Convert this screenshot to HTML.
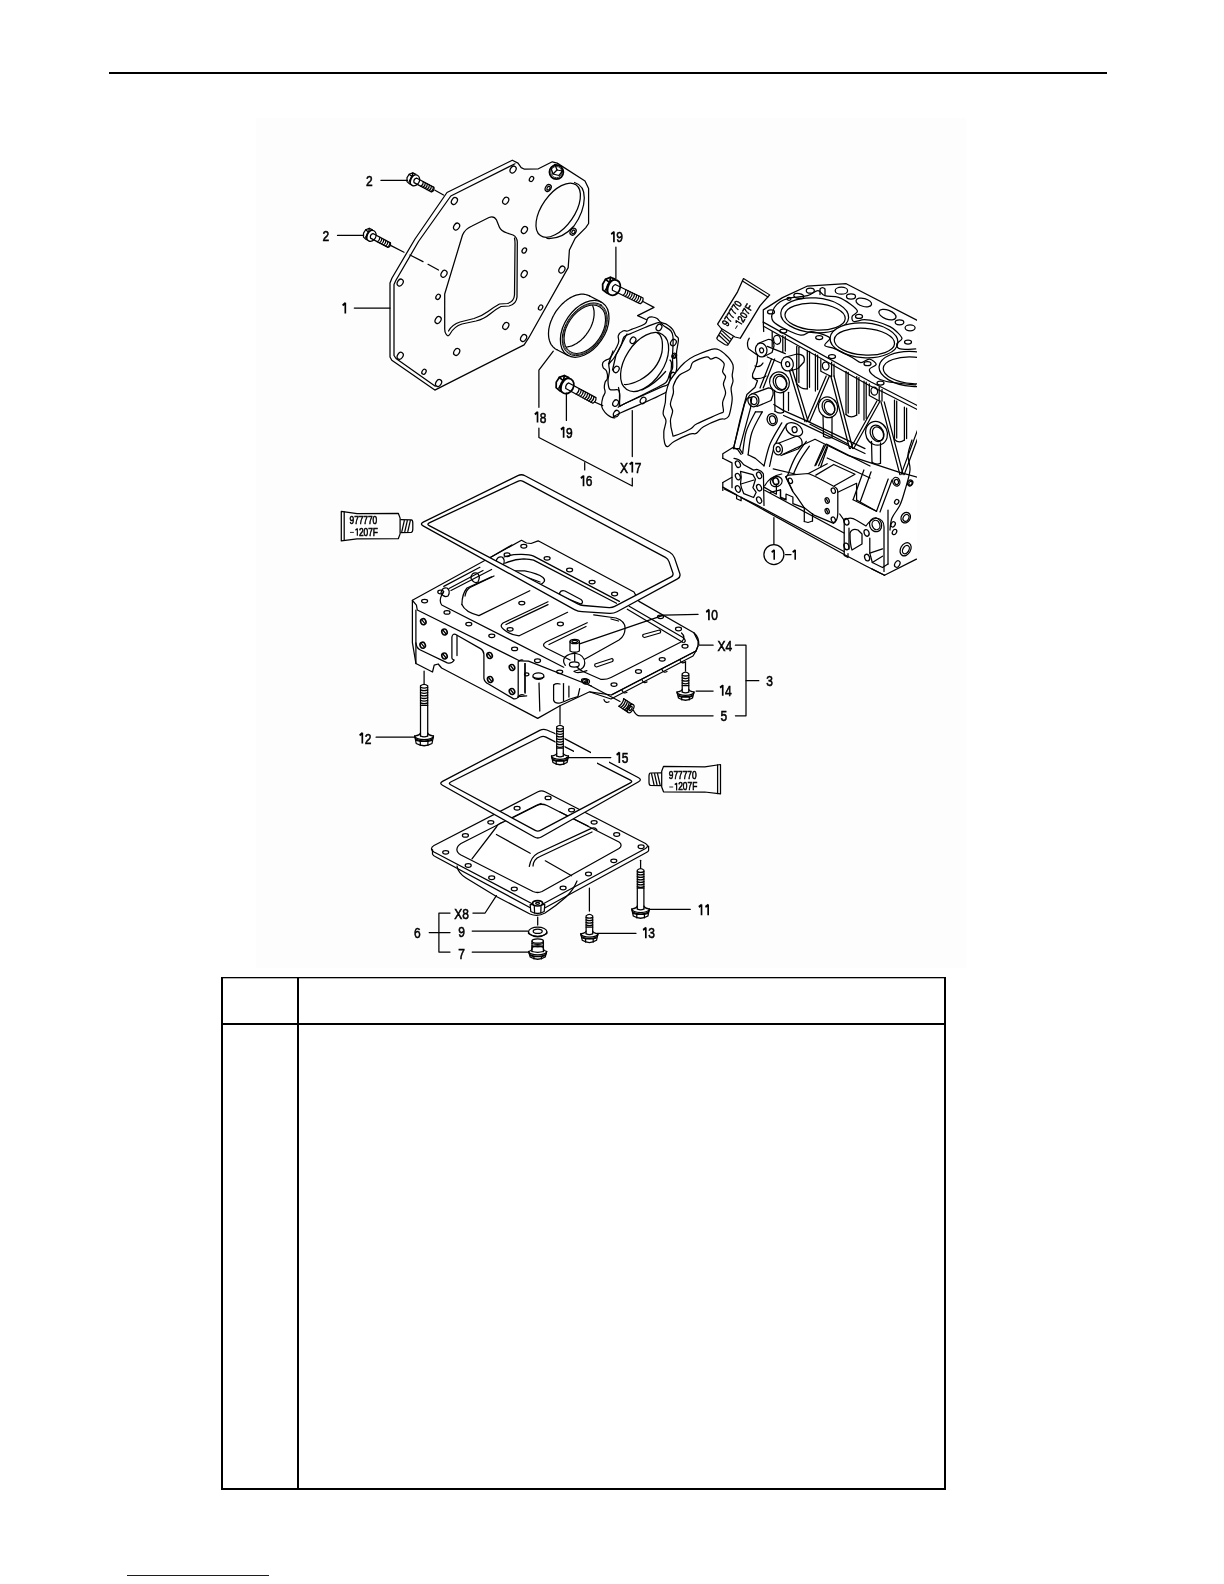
<!DOCTYPE html>
<html><head><meta charset="utf-8">
<style>
html,body{margin:0;padding:0;background:#fff;}
body{width:1224px;height:1584px;position:relative;overflow:hidden;font-family:"Liberation Sans",sans-serif;}
svg{position:absolute;left:0;top:0;will-change:transform;}
.l{fill:none;stroke:#000;stroke-width:1.25;stroke-linejoin:round;stroke-linecap:round;}
.t{font-family:"Liberation Sans",sans-serif;fill:#000;}
</style></head><body>
<svg width="1224" height="1584" viewBox="0 0 1224 1584">
<!-- top rule -->
<rect x="109" y="72" width="998" height="2" fill="#000"/>
<!-- table -->
<rect x="221" y="977" width="725" height="1.3" fill="#000"/>
<rect x="221" y="977" width="2" height="513" fill="#000"/>
<rect x="944" y="977" width="2" height="513" fill="#000"/>
<rect x="297" y="977" width="2" height="513" fill="#000"/>
<rect x="221" y="1023" width="725" height="2" fill="#000"/>
<rect x="221" y="1488" width="725" height="2" fill="#000"/>
<!-- link underline -->
<rect x="127" y="1575" width="142" height="1" fill="#0000ff"/>
<rect x="256" y="118" width="710" height="850" fill="#fdfdfd"/>
<g id="diagram">
<!-- a_plate -->
<path class="l" d="M447,192.5 L512.3,160.2 L518,163.1 L521.2,167.6 L524.5,169.2 L538.4,168.8 L552.3,161.8 L557.2,163.1 L585,181 L588.6,188.4 L588.6,223.5 L585.8,227.6 L575.2,238.2 L569.4,250 L568.2,267.6 L528.5,338.2 L524.1,344.9 L434.8,390.1 L391.8,360.3 L390,357 L390,283 L392,278 L415,239 L447,192.5Z" /><path class="l" d="M515,163.8 L450.8,196 L418.5,241.5 L395.8,280.5 L394,284.5 L394,355.5 L396,358.5 L435.3,386.2" /><path class="l" d="M444.7,294 L462.5,235 Q465,229 472,226 L489,217.5 Q494,215.6 496.5,220 L499.3,227 Q501,231 507,233 L513,235 Q517,237 517.3,242 L517,297 Q516.5,304 509,306 L501,306.5 Q496,309 490,314 Q484,319 476,321 L462,324 Q454,326.5 450,334 Q448,337.5 446,334 Q444.7,332 444.7,329 Z" /><path class="l" d="M514.5,238 Q515.2,241 515,246 L514.5,295 Q514,301.5 507.5,303.5 L499.5,304 Q494,307 488,311.5 Q482,316 474,318.5 L460,322 Q452,324.5 448.5,331" /><ellipse class="l" cx="558.2" cy="210.2" rx="31" ry="16.3" transform="rotate(-55 558.2 210.2)" /><path class="l" d="M574.5,182.5 Q584.5,185.5 584.3,198 Q584,212 574,226 Q562,239.5 547,238.5" /><circle class="l" cx="556.4" cy="172.1" r="7" style="stroke-width:1.7;fill:#fff"/><path class="l" d="M551,168 L555,164.5 L561,166 L562.5,171 L559,175.5 L553,174 Z" /><line class="l" x1="555" y1="164.5" x2="557" y2="170" /><line class="l" x1="557" y1="170" x2="562.5" y2="171" /><line class="l" x1="557" y1="170" x2="553" y2="174" /><circle class="l" cx="556.4" cy="172.1" r="5.6" style="stroke-width:0.8"/><ellipse class="l" cx="513.1" cy="169.6" rx="2.7" ry="3.7" transform="rotate(32 513.1 169.6)" /><ellipse class="l" cx="531.5" cy="179" rx="1.9" ry="2.7" transform="rotate(32 531.5 179)" /><ellipse class="l" cx="548.2" cy="188" rx="2.7" ry="3.7" transform="rotate(32 548.2 188)" /><ellipse class="l" cx="548.5" cy="188.2" rx="1.4" ry="2" transform="rotate(32 548.5 188.2)" /><ellipse class="l" cx="454.4" cy="201" rx="2.7" ry="3.7" transform="rotate(32 454.4 201)" /><ellipse class="l" cx="505.7" cy="200.7" rx="2.7" ry="3.7" transform="rotate(32 505.7 200.7)" /><ellipse class="l" cx="456.6" cy="226.6" rx="2.7" ry="3.7" transform="rotate(32 456.6 226.6)" /><ellipse class="l" cx="524.4" cy="230" rx="2.7" ry="3.7" transform="rotate(32 524.4 230)" /><ellipse class="l" cx="524.3" cy="250.5" rx="2" ry="2.8" transform="rotate(32 524.3 250.5)" /><ellipse class="l" cx="573.1" cy="231.7" rx="2.7" ry="3.7" transform="rotate(32 573.1 231.7)" /><ellipse class="l" cx="573.4" cy="231.9" rx="1.4" ry="2" transform="rotate(32 573.4 231.9)" /><ellipse class="l" cx="400.2" cy="282.6" rx="2.7" ry="3.7" transform="rotate(32 400.2 282.6)" /><ellipse class="l" cx="444" cy="273.8" rx="2.7" ry="3.7" transform="rotate(32 444 273.8)" /><ellipse class="l" cx="438.1" cy="296.8" rx="2" ry="2.8" transform="rotate(32 438.1 296.8)" /><ellipse class="l" cx="438.1" cy="320" rx="2.7" ry="3.7" transform="rotate(32 438.1 320)" /><ellipse class="l" cx="400.2" cy="355.8" rx="2.7" ry="3.7" transform="rotate(32 400.2 355.8)" /><ellipse class="l" cx="424" cy="371.8" rx="1.9" ry="2.7" transform="rotate(32 424 371.8)" /><ellipse class="l" cx="438.6" cy="383" rx="2.7" ry="3.7" transform="rotate(32 438.6 383)" /><ellipse class="l" cx="456.7" cy="351.9" rx="2.7" ry="3.7" transform="rotate(32 456.7 351.9)" /><ellipse class="l" cx="505.8" cy="325.9" rx="2.7" ry="3.7" transform="rotate(32 505.8 325.9)" /><ellipse class="l" cx="523.6" cy="338" rx="2.7" ry="3.7" transform="rotate(32 523.6 338)" /><ellipse class="l" cx="540.6" cy="307.5" rx="1.9" ry="2.7" transform="rotate(32 540.6 307.5)" /><ellipse class="l" cx="561.9" cy="269.6" rx="2.7" ry="3.7" transform="rotate(32 561.9 269.6)" /><ellipse class="l" cx="524.2" cy="274" rx="2.7" ry="3.7" transform="rotate(32 524.2 274)" /><line class="l" x1="354.3" y1="308" x2="390" y2="308" /><g transform="translate(341,313.5) scale(0.800,1)"><path d="M5.4,0 L5.4,-10.7 M5.6,-10.5 L2,-8.2" style="fill:none;stroke:#000;stroke-width:2.10;stroke-linecap:butt"/></g><g transform="translate(413.3,179.3) rotate(28)"><g transform="scale(1)"><path class="l" d="M0,-5.6 L-3.5,-5.4 L-6,-2.5 L-6.3,1.5 L-4.5,5 L-1,5.8 L1,5.6" /><path class="l" d="M-3.5,-5.4 L-2.2,-1.8 L-2.6,4.2 M-6,-2.5 L-2.2,-1.8" /><ellipse class="l" cx="1.8" cy="0.2" rx="4.6" ry="5.7" style="fill:#fff"/><path class="l" d="M-1.2,-4.2 Q-3.2,0 -1,4.6" /></g><path class="l" d="M22,-2.6 L2.2,-2.6 Q-0.2,0 2.2,2.6 L22,2.6 Q24.2,0 22,-2.6" /><path class="l" d="M10,-2.6 Q11.4,0 10,2.6" /><path class="l" d="M12.3,-2.6 Q13.7,0 12.3,2.6" /><path class="l" d="M14.6,-2.6 Q16,0 14.6,2.6" /><path class="l" d="M16.9,-2.6 Q18.3,0 16.9,2.6" /><path class="l" d="M19.2,-2.6 Q20.6,0 19.2,2.6" /><path class="l" d="M21.5,-2.6 Q22.9,0 21.5,2.6" /></g><line class="l" x1="380.9" y1="180.3" x2="407.5" y2="180.3" /><g transform="translate(366,185.8) scale(0.800,1)"><text x="0" y="0" class="t" font-size="15" font-weight="normal" style="stroke:#000;stroke-width:0.6">2</text></g><path class="l" d="M435,190.2 L443.5,195" style="stroke-dasharray:none"/><g transform="translate(369.8,234.8) rotate(28)"><g transform="scale(1)"><path class="l" d="M0,-5.6 L-3.5,-5.4 L-6,-2.5 L-6.3,1.5 L-4.5,5 L-1,5.8 L1,5.6" /><path class="l" d="M-3.5,-5.4 L-2.2,-1.8 L-2.6,4.2 M-6,-2.5 L-2.2,-1.8" /><ellipse class="l" cx="1.8" cy="0.2" rx="4.6" ry="5.7" style="fill:#fff"/><path class="l" d="M-1.2,-4.2 Q-3.2,0 -1,4.6" /></g><path class="l" d="M22,-2.6 L2.2,-2.6 Q-0.2,0 2.2,2.6 L22,2.6 Q24.2,0 22,-2.6" /><path class="l" d="M10,-2.6 Q11.4,0 10,2.6" /><path class="l" d="M12.3,-2.6 Q13.7,0 12.3,2.6" /><path class="l" d="M14.6,-2.6 Q16,0 14.6,2.6" /><path class="l" d="M16.9,-2.6 Q18.3,0 16.9,2.6" /><path class="l" d="M19.2,-2.6 Q20.6,0 19.2,2.6" /><path class="l" d="M21.5,-2.6 Q22.9,0 21.5,2.6" /></g><line class="l" x1="337.5" y1="235.4" x2="363.5" y2="235.4" /><g transform="translate(322.5,241) scale(0.800,1)"><text x="0" y="0" class="t" font-size="15" font-weight="normal" style="stroke:#000;stroke-width:0.6">2</text></g><path class="l" d="M391,245.6 L404,252.2 M410,255 L423,261.6 M428,264.3 L438.5,270" />
<!-- b_seal -->
<path class="l" d="M557,349.7 L556,349.2 L555.1,348.7 L554.3,348 L553.5,347.3 L552.7,346.6 L552.1,345.7 L551.4,344.8 L550.8,343.9 L550.3,342.9 L549.9,341.8 L549.5,340.7 L549.2,339.5 L548.9,338.3 L548.7,337 L548.6,335.7 L548.5,334.4 L548.5,333 L548.6,331.6 L548.7,330.2 L548.9,328.7 L549.2,327.3 L549.5,325.8 L549.9,324.3 L550.4,322.8 L550.9,321.3 L551.5,319.9 L552.1,318.4 L552.8,316.9 L553.6,315.5 L554.4,314 L555.2,312.6 L556.1,311.2 L557.1,309.9 L558.1,308.6 L559.1,307.3 L560.2,306.1 L561.3,304.9 L562.4,303.8 L563.6,302.7 L564.8,301.6 L566,300.7 L567.2,299.7 L568.5,298.9 L569.7,298.1 L571,297.4 L572.3,296.7 L573.6,296.1 L574.8,295.6 L576.1,295.2 L577.4,294.8 L578.6,294.6 L579.8,294.4 L581,294.2 L582.2,294.2 L583.4,294.2 L584.5,294.3 L585.6,294.5 L586.7,294.8 L587.7,295.1 L588.7,295.5 L589.7,296" /><line class="l" x1="568.4" y1="355.7" x2="556.5" y2="349.5" /><line class="l" x1="601" y1="301.9" x2="589.2" y2="295.7" /><ellipse class="l" cx="584.7" cy="328.8" rx="31.5" ry="20.2" transform="rotate(-55.8 584.7 328.8)" /><ellipse class="l" cx="584.8" cy="329.2" rx="29.3" ry="18.8" transform="rotate(-55.8 584.8 329.2)" style="stroke-width:0.9"/><ellipse class="l" cx="584.8" cy="329.2" rx="28.2" ry="18.1" transform="rotate(-55.8 584.8 329.2)" style="stroke-width:0.7"/><ellipse class="l" cx="584.8" cy="329.2" rx="26.8" ry="17.2" transform="rotate(-55.8 584.8 329.2)" style="stroke-width:1.1"/><path class="l" d="M592.6,305.7 L593,306.6 L593.3,307.6 L593.6,308.6 L593.8,309.6 L594,310.7 L594.1,311.8 L594.1,312.9 L594.1,314.1 L594.1,315.3 L593.9,316.5 L593.8,317.7 L593.5,318.9 L593.3,320.2 L592.9,321.5 L592.5,322.7 L592.1,324 L591.6,325.2 L591.1,326.5 L590.5,327.7 L589.8,329 L589.1,330.2 L588.4,331.4 L587.6,332.6 L586.8,333.7 L586,334.8 L585.1,335.9 L584.2,337 L583.3,338 L582.3,338.9 L581.3,339.9 L580.3,340.7 L579.3,341.6 L578.2,342.3 L577.2,343.1 L576.1,343.7 L575,344.3 L573.9,344.9 L572.8,345.4 L571.8,345.8 L570.7,346.2 L569.6,346.5 L568.6,346.7 L567.5,346.9 L566.5,347" /><path class="l" d="M553.3,351.2 L538.9,370.1 L538.9,407.3" /><g transform="translate(533.2,422.5) scale(0.800,1)"><path d="M5.4,0 L5.4,-10.7 M5.6,-10.5 L2,-8.2" style="fill:none;stroke:#000;stroke-width:2.10;stroke-linecap:butt"/><text x="8.3" y="0" class="t" font-size="15" font-weight="normal" style="stroke:#000;stroke-width:0.6">8</text></g><path class="l" d="M538.9,428.2 L538.9,437.5 L632.3,486 L632.3,478.2" /><line class="l" x1="584.7" y1="462.7" x2="584.7" y2="469.9" /><g transform="translate(579.2,486.3) scale(0.800,1)"><path d="M5.4,0 L5.4,-10.7 M5.6,-10.5 L2,-8.2" style="fill:none;stroke:#000;stroke-width:2.10;stroke-linecap:butt"/><text x="8.3" y="0" class="t" font-size="15" font-weight="normal" style="stroke:#000;stroke-width:0.6">6</text></g><line class="l" x1="632.3" y1="410.5" x2="632.3" y2="456.6" /><g transform="translate(620,472.6) scale(0.800,1)"><text x="0" y="0" class="t" font-size="15" font-weight="normal" style="stroke:#000;stroke-width:0.6">X</text><path d="M15.4,0 L15.4,-10.7 M15.6,-10.5 L12,-8.2" style="fill:none;stroke:#000;stroke-width:2.10;stroke-linecap:butt"/><text x="18.3" y="0" class="t" font-size="15" font-weight="normal" style="stroke:#000;stroke-width:0.6">7</text></g><g transform="translate(611.5,286.2) rotate(26)"><g transform="scale(1.4)"><path class="l" d="M0,-5.6 L-3.5,-5.4 L-6,-2.5 L-6.3,1.5 L-4.5,5 L-1,5.8 L1,5.6" /><path class="l" d="M-3.5,-5.4 L-2.2,-1.8 L-2.6,4.2 M-6,-2.5 L-2.2,-1.8" /><ellipse class="l" cx="1.8" cy="0.2" rx="4.6" ry="5.7" style="fill:#fff"/><path class="l" d="M-1.2,-4.2 Q-3.2,0 -1,4.6" /></g><path class="l" d="M33.5,-3.2 L2.6,-3.2 Q0.2,0 2.6,3.2 L33.5,3.2 Q35.7,0 33.5,-3.2" /><path class="l" d="M14.5,-3.2 Q15.9,0 14.5,3.2" /><path class="l" d="M16.9,-3.2 Q18.3,0 16.9,3.2" /><path class="l" d="M19.3,-3.2 Q20.7,0 19.3,3.2" /><path class="l" d="M21.7,-3.2 Q23.1,0 21.7,3.2" /><path class="l" d="M24.1,-3.2 Q25.5,0 24.1,3.2" /><path class="l" d="M26.5,-3.2 Q27.9,0 26.5,3.2" /><path class="l" d="M28.9,-3.2 Q30.3,0 28.9,3.2" /><path class="l" d="M31.3,-3.2 Q32.7,0 31.3,3.2" /></g><line class="l" x1="615.9" y1="247" x2="615.9" y2="278.5" /><g transform="translate(609.6,242.3) scale(0.800,1)"><path d="M5.4,0 L5.4,-10.7 M5.6,-10.5 L2,-8.2" style="fill:none;stroke:#000;stroke-width:2.10;stroke-linecap:butt"/><text x="8.3" y="0" class="t" font-size="15" font-weight="normal" style="stroke:#000;stroke-width:0.6">9</text></g><path class="l" d="M642.5,301.2 L654,307.4 L637.6,315.6 L646.6,319.7" /><g transform="translate(565,384.5) rotate(28.5)"><g transform="scale(1.4)"><path class="l" d="M0,-5.6 L-3.5,-5.4 L-6,-2.5 L-6.3,1.5 L-4.5,5 L-1,5.8 L1,5.6" /><path class="l" d="M-3.5,-5.4 L-2.2,-1.8 L-2.6,4.2 M-6,-2.5 L-2.2,-1.8" /><ellipse class="l" cx="1.8" cy="0.2" rx="4.6" ry="5.7" style="fill:#fff"/><path class="l" d="M-1.2,-4.2 Q-3.2,0 -1,4.6" /></g><path class="l" d="M33.5,-3.2 L2.6,-3.2 Q0.2,0 2.6,3.2 L33.5,3.2 Q35.7,0 33.5,-3.2" /><path class="l" d="M14.5,-3.2 Q15.9,0 14.5,3.2" /><path class="l" d="M16.9,-3.2 Q18.3,0 16.9,3.2" /><path class="l" d="M19.3,-3.2 Q20.7,0 19.3,3.2" /><path class="l" d="M21.7,-3.2 Q23.1,0 21.7,3.2" /><path class="l" d="M24.1,-3.2 Q25.5,0 24.1,3.2" /><path class="l" d="M26.5,-3.2 Q27.9,0 26.5,3.2" /><path class="l" d="M28.9,-3.2 Q30.3,0 28.9,3.2" /><path class="l" d="M31.3,-3.2 Q32.7,0 31.3,3.2" /></g><line class="l" x1="594.6" y1="402" x2="602.7" y2="405.6" /><line class="l" x1="566.4" y1="393" x2="566.4" y2="420.4" /><g transform="translate(559.3,437.7) scale(0.800,1)"><path d="M5.4,0 L5.4,-10.7 M5.6,-10.5 L2,-8.2" style="fill:none;stroke:#000;stroke-width:2.10;stroke-linecap:butt"/><text x="8.3" y="0" class="t" font-size="15" font-weight="normal" style="stroke:#000;stroke-width:0.6">9</text></g><path class="l" d="M644.7,324 C648,321.8 646.3,319.6 647.8,318.2 C649.3,316.8 650.5,316.9 652.4,317 C654.3,317.1 655.4,317.4 657.1,318.5 C658.8,319.6 659,321.2 661,322.4 C663,323.6 664.9,323.3 667.2,324.7 C669.5,326.1 670.9,327.2 672.6,329.4 C674.3,331.6 674.5,333.7 675.7,335.6 C676.9,337.5 678.1,336.4 678.4,338.7 C678.7,341 677.7,344.3 677.3,347.3 C676.9,350.3 676.7,349 676.5,353.5 C676.3,358 677.4,364.5 676.5,369.8 C675.6,375.1 673.9,375.7 672,380 C670.1,384.3 677.9,384.7 667.2,391.5 C656.5,398.3 628.9,408.7 618.3,414 C607.7,419.3 616.6,417.7 614.4,417.9 C612.2,418.1 609.7,416.5 607.4,414.8 C605.1,413.1 604,411.3 602.8,409.3 C601.6,407.3 601.6,407 601.6,404.7 C601.6,402.4 602.1,400.2 602.8,397.7 C603.5,395.2 604.8,394.3 605.1,392.3 C605.4,390.3 604.3,389.6 604.3,387.6 C604.3,385.6 604.5,384.1 605.1,382.2 C605.7,380.3 607.1,380.5 607.4,378.3 C607.7,376.1 607.5,373.5 606.6,371.3 C605.7,369.1 603.9,369.1 603.1,367.4 C602.3,365.7 602.1,364.3 602.8,362.8 C603.5,361.3 605.1,360.8 606.6,359.7 C608.1,358.6 608.2,360.6 610.5,357.3 C612.8,354 616.7,347.7 618.3,343.4 C619.9,339.1 617.4,338.1 618.3,335.6 C619.2,333.1 621,331.9 622.9,331 C624.8,330.1 625.9,331.3 627.6,331 C629.3,330.7 628.1,330.8 631.5,329.4 C634.9,328 641.4,326.2 644.7,324Z" /><path class="l" d="M630.7,333.6 C633.1,332.6 640.4,329.3 645,327.5 C649.6,325.7 655.4,322.9 658.6,322.6 C661.8,322.4 661.9,324.6 664,326 C666.1,327.4 669.5,329.2 671,331 C672.5,332.8 672.7,334.5 673,337 C673.3,339.5 673.1,342.8 673,346 C672.9,349.2 672.6,352.3 672.5,356 C672.4,359.7 673,365.2 672.6,368 C672.2,370.8 670.9,370.3 670,372.5 C669.1,374.7 668.7,378.8 667,381 C665.3,383.2 667.5,382 660,386 C652.5,390 628.8,401.7 622,405 C615.2,408.3 619.6,407.2 619.2,406 C618.8,404.8 619.6,400.7 619.5,398 C619.4,395.3 620.1,391.4 618.5,390 C616.9,388.6 611.8,391 610,389.5 C608.2,388 608.1,384.1 608,381 C607.9,377.9 609.3,373.8 609.5,371 C609.7,368.2 608.2,366.2 609,364 C609.8,361.8 612,361.1 614,358 C616,354.9 619.3,349 621,345.5 C622.7,342 622.4,339 624,337 C625.6,335 629.6,334.2 630.7,333.6" /><path class="l" d="M618.5,387.5 C618.7,388.8 619.5,392 619.8,395 C620,398 619,404.2 620,405.5 C621,406.8 619.3,406 626,403 C632.7,400 652.8,390.9 660,387.6 C667.2,384.3 667.1,386.9 669,383 C670.9,379.1 671.3,368.3 671.5,364.5 C671.7,360.7 670.2,360.8 670,360" /><ellipse class="l" cx="644.6" cy="362" rx="32.8" ry="19.2" transform="rotate(-57 644.6 362)" /><path class="l" d="M657.1,332.6 Q664,336 662,352 Q658,370 640,380 Q630,385 624.5,384.5" /><path class="l" d="M665.6,371.5 Q655,384 642,390" /><ellipse class="l" cx="659" cy="327.5" rx="2.6" ry="3.4" transform="rotate(32 659 327.5)" /><ellipse class="l" cx="673.4" cy="342.6" rx="2.6" ry="3.4" transform="rotate(32 673.4 342.6)" /><ellipse class="l" cx="674.2" cy="355.8" rx="2.1" ry="2.7" transform="rotate(32 674.2 355.8)" /><ellipse class="l" cx="674.5" cy="356" rx="1" ry="1.5" transform="rotate(32 674.5 356)" /><ellipse class="l" cx="672.6" cy="375.6" rx="2.6" ry="3.4" transform="rotate(32 672.6 375.6)" /><ellipse class="l" cx="633" cy="340.3" rx="2.6" ry="3.4" transform="rotate(32 633 340.3)" /><ellipse class="l" cx="616.3" cy="369.4" rx="2.6" ry="3.4" transform="rotate(32 616.3 369.4)" /><ellipse class="l" cx="643.1" cy="400.4" rx="2.6" ry="3.4" transform="rotate(32 643.1 400.4)" /><ellipse class="l" cx="615.6" cy="403.1" rx="2.6" ry="3.4" transform="rotate(32 615.6 403.1)" /><ellipse class="l" cx="616.3" cy="413.6" rx="2.6" ry="3.4" transform="rotate(32 616.3 413.6)" /><path class="l" d="M612.5,370 L616,355 L627,334" /><path class="l" d="M608.5,364 L613,351" /><path class="l" d="M714.6,348.8 C719.9,348.6 722.5,352 725.6,354.7 C728.7,357.4 731.9,361.6 733,365 C734.1,368.4 732.2,372.6 732.2,375.3 C732.2,378 733.2,379 733,381.2 C732.8,383.4 731.2,385.6 731.1,388.5 C731,391.4 732.3,395.4 732.2,398.8 C732.1,402.2 731.3,406.2 730.7,409.1 C730.1,412.1 729.5,414.9 728.5,416.5 C727.5,418.1 726.4,418.5 724.9,419 C723.4,419.5 723.3,418.1 719.7,419.4 C716.1,420.7 707.4,424.5 703.5,426.8 C699.6,429.1 698.5,432.2 696.2,433.4 C693.9,434.6 693.3,432.8 689.6,434.1 C685.9,435.5 677.8,439.4 674.1,441.5 C670.4,443.6 669.1,446.4 667.5,446.6 C665.9,446.8 665.2,445.3 664.6,442.9 C664,440.4 663.6,435.6 663.8,431.9 C664,428.2 666.1,424 666,420.9 C665.9,417.8 663.2,416.6 663.1,413.5 C663,410.4 664.8,405.9 665.3,402.5 C665.8,399.1 665.3,396.4 666,392.9 C666.7,389.3 667.9,384.9 669.7,381.2 C671.6,377.5 674.7,374 677.1,370.9 C679.5,367.8 681.6,365.2 684.4,362.8 C687.2,360.4 689,358.5 694,356.2 C699,353.9 709.3,349.1 714.6,348.8Z" style="fill:#fff"/><path class="l" d="M716.8,357.6 C719,358.3 723.1,361.2 724.1,363.5 C725.1,365.8 722.4,369.4 722.6,371.6 C722.9,373.8 725.5,374.7 725.6,376.8 C725.7,378.9 723.4,381.4 723.4,384.1 C723.4,386.8 725.7,389.8 725.6,392.9 C725.5,396 723,399.4 722.6,402.5 C722.2,405.6 723.9,409.5 723.4,411.3 C722.9,413.1 724.1,411.4 719.7,413.5 C715.3,415.6 701.8,421.2 696.9,423.8 C692,426.4 694,427 690.3,429 C686.6,431 677.8,434.8 674.9,435.6 C672,436.5 673.4,436.6 672.6,434.1 C671.9,431.7 670.4,424.7 670.4,420.9 C670.4,417.1 672.6,414.1 672.6,411.3 C672.6,408.5 670.3,407.1 670.4,404 C670.5,400.9 672.9,396 673.4,392.9 C673.9,389.8 672.4,388.5 673.4,385.6 C674.4,382.7 676.6,378 679.3,375.3 C682,372.6 687.3,371.6 689.6,369.4 C691.9,367.2 690.4,364.2 693.2,362.1 C696,360 703.5,357.4 706.5,356.9 C709.5,356.4 709.2,359 710.9,359.1 C712.6,359.2 714.6,356.9 716.8,357.6Z" />
<!-- c_tubes -->
<g transform="translate(341.3,526.1)"><path class="l" d="M0,-14.7 L15.7,-12.4 L57,-12.8 L58.8,-8 L58.8,7.8 L57,12.6 L15.7,12.8 L0,14.7Z" /><line class="l" x1="2.9" y1="-14.3" x2="2.9" y2="14.3" /><path class="l" d="M59.5,-6.4 L70,-6.2 Q71.5,-6 71.5,-3 L71.5,3 Q71.5,6 70,6.2 L59.5,6.5" /><line class="l" x1="63" y1="-5.5" x2="60.5" y2="5.5" /><line class="l" x1="66" y1="-5.5" x2="63.5" y2="5.5" /><line class="l" x1="69" y1="-5.5" x2="66.5" y2="5.5" /></g><g transform="translate(349.5,524) scale(0.800,1)"><text x="0" y="0" class="t" font-size="10.4" font-weight="normal" style="stroke:#000;stroke-width:0.6">9</text><text x="5.8" y="0" class="t" font-size="10.4" font-weight="normal" style="stroke:#000;stroke-width:0.6">7</text><text x="11.6" y="0" class="t" font-size="10.4" font-weight="normal" style="stroke:#000;stroke-width:0.6">7</text><text x="17.3" y="0" class="t" font-size="10.4" font-weight="normal" style="stroke:#000;stroke-width:0.6">7</text><text x="23.1" y="0" class="t" font-size="10.4" font-weight="normal" style="stroke:#000;stroke-width:0.6">7</text><text x="28.9" y="0" class="t" font-size="10.4" font-weight="normal" style="stroke:#000;stroke-width:0.6">0</text></g><g transform="translate(349.5,535.8) scale(0.800,1)"><path d="M0.6,-3.4 L5.5,-3.4" style="fill:none;stroke:#000;stroke-width:0.94"/><path d="M9.8,0 L9.8,-7.4 M10,-7.3 L7.4,-5.7" style="fill:none;stroke:#000;stroke-width:1.46;stroke-linecap:butt"/><text x="11.9" y="0" class="t" font-size="10.4" font-weight="normal" style="stroke:#000;stroke-width:0.6">2</text><text x="17.6" y="0" class="t" font-size="10.4" font-weight="normal" style="stroke:#000;stroke-width:0.6">0</text><text x="23.4" y="0" class="t" font-size="10.4" font-weight="normal" style="stroke:#000;stroke-width:0.6">7</text><text x="29.2" y="0" class="t" font-size="10.4" font-weight="normal" style="stroke:#000;stroke-width:0.6">F</text></g><g transform="translate(720.5,779.2) scale(-1,1)"><path class="l" d="M0,-14.7 L15.7,-12.4 L57,-12.8 L58.8,-8 L58.8,7.8 L57,12.6 L15.7,12.8 L0,14.7Z" /><line class="l" x1="2.9" y1="-14.3" x2="2.9" y2="14.3" /><path class="l" d="M59.5,-6.4 L70,-6.2 Q71.5,-6 71.5,-3 L71.5,3 Q71.5,6 70,6.2 L59.5,6.5" /><line class="l" x1="63" y1="-5.5" x2="60.5" y2="5.5" /><line class="l" x1="66" y1="-5.5" x2="63.5" y2="5.5" /><line class="l" x1="69" y1="-5.5" x2="66.5" y2="5.5" /></g><g transform="translate(668.8,778.6) scale(0.800,1)"><text x="0" y="0" class="t" font-size="10.4" font-weight="normal" style="stroke:#000;stroke-width:0.6">9</text><text x="5.8" y="0" class="t" font-size="10.4" font-weight="normal" style="stroke:#000;stroke-width:0.6">7</text><text x="11.6" y="0" class="t" font-size="10.4" font-weight="normal" style="stroke:#000;stroke-width:0.6">7</text><text x="17.3" y="0" class="t" font-size="10.4" font-weight="normal" style="stroke:#000;stroke-width:0.6">7</text><text x="23.1" y="0" class="t" font-size="10.4" font-weight="normal" style="stroke:#000;stroke-width:0.6">7</text><text x="28.9" y="0" class="t" font-size="10.4" font-weight="normal" style="stroke:#000;stroke-width:0.6">0</text></g><g transform="translate(668.8,790.4) scale(0.800,1)"><path d="M0.6,-3.4 L5.5,-3.4" style="fill:none;stroke:#000;stroke-width:0.94"/><path d="M9.8,0 L9.8,-7.4 M10,-7.3 L7.4,-5.7" style="fill:none;stroke:#000;stroke-width:1.46;stroke-linecap:butt"/><text x="11.9" y="0" class="t" font-size="10.4" font-weight="normal" style="stroke:#000;stroke-width:0.6">2</text><text x="17.6" y="0" class="t" font-size="10.4" font-weight="normal" style="stroke:#000;stroke-width:0.6">0</text><text x="23.4" y="0" class="t" font-size="10.4" font-weight="normal" style="stroke:#000;stroke-width:0.6">7</text><text x="29.2" y="0" class="t" font-size="10.4" font-weight="normal" style="stroke:#000;stroke-width:0.6">F</text></g><g transform="translate(756.6,286.7) rotate(122) scale(0.92,1.05)"><path class="l" d="M0,-14.7 L15.7,-12.4 L57,-12.8 L58.8,-8 L58.8,7.8 L57,12.6 L15.7,12.8 L0,14.7Z" /><line class="l" x1="2.9" y1="-14.3" x2="2.9" y2="14.3" /><path class="l" d="M59.5,-6.4 L70,-6.2 Q71.5,-6 71.5,-3 L71.5,3 Q71.5,6 70,6.2 L59.5,6.5" /><line class="l" x1="63" y1="-5.5" x2="60.5" y2="5.5" /><line class="l" x1="66" y1="-5.5" x2="63.5" y2="5.5" /><line class="l" x1="69" y1="-5.5" x2="66.5" y2="5.5" /></g><g transform="translate(727.5,327) rotate(-58) scale(0.800,1)"><text x="0" y="0" class="t" font-size="10.4" font-weight="normal" style="stroke:#000;stroke-width:0.6">9</text><text x="5.8" y="0" class="t" font-size="10.4" font-weight="normal" style="stroke:#000;stroke-width:0.6">7</text><text x="11.6" y="0" class="t" font-size="10.4" font-weight="normal" style="stroke:#000;stroke-width:0.6">7</text><text x="17.3" y="0" class="t" font-size="10.4" font-weight="normal" style="stroke:#000;stroke-width:0.6">7</text><text x="23.1" y="0" class="t" font-size="10.4" font-weight="normal" style="stroke:#000;stroke-width:0.6">7</text><text x="28.9" y="0" class="t" font-size="10.4" font-weight="normal" style="stroke:#000;stroke-width:0.6">0</text></g><g transform="translate(738,331) rotate(-58) scale(0.800,1)"><path d="M0.6,-3.4 L5.5,-3.4" style="fill:none;stroke:#000;stroke-width:0.94"/><path d="M9.8,0 L9.8,-7.4 M10,-7.3 L7.4,-5.7" style="fill:none;stroke:#000;stroke-width:1.46;stroke-linecap:butt"/><text x="11.9" y="0" class="t" font-size="10.4" font-weight="normal" style="stroke:#000;stroke-width:0.6">2</text><text x="17.6" y="0" class="t" font-size="10.4" font-weight="normal" style="stroke:#000;stroke-width:0.6">0</text><text x="23.4" y="0" class="t" font-size="10.4" font-weight="normal" style="stroke:#000;stroke-width:0.6">7</text><text x="29.2" y="0" class="t" font-size="10.4" font-weight="normal" style="stroke:#000;stroke-width:0.6">F</text></g>
<!-- d_block -->
<defs><clipPath id="blk"><rect x="700" y="270" width="217" height="320"/></clipPath></defs><g clip-path="url(#blk)"><path class="l" d="M763.3,309.9 L782.5,297.6 L807,286.2 L846.2,283.7 L930,327 L930,560 L884.3,576 L722.5,490.4 L722.5,453.9 L744,403.5 L746.9,394.5 L748.5,348.8 L749.3,338.2 L763.3,322.1Z" style="fill:#fff;stroke:none"/><path class="l" d="M763.3,322.1 L763.3,309.9 L782.5,297.6 L807,286.2 L846.2,283.7 L930,327" /><line class="l" x1="763.3" y1="322.1" x2="763.7" y2="331.5" /><path class="l" d="M763.3,322.1 L871,382 L884,388.5 L930,412" /><path class="l" d="M764,326.5 L869.3,385.5 L884,392.5 L930,416" /><ellipse class="l" cx="814.7" cy="315.3" rx="34" ry="17.4" transform="rotate(4 814.7 315.3)" style="fill:#fff"/><ellipse class="l" cx="815.1" cy="316.7" rx="30.2" ry="13.3" transform="rotate(4 815.1 316.7)" /><ellipse class="l" cx="864" cy="340.3" rx="34" ry="17.4" transform="rotate(4 864 340.3)" style="fill:#fff"/><ellipse class="l" cx="864.4" cy="341.7" rx="30.2" ry="13.3" transform="rotate(4 864.4 341.7)" /><ellipse class="l" cx="913" cy="369" rx="34" ry="17.4" transform="rotate(4 913 369)" style="fill:#fff"/><ellipse class="l" cx="913.4" cy="370.4" rx="30.2" ry="13.3" transform="rotate(4 913.4 370.4)" /><ellipse class="l" cx="771" cy="311.9" rx="3.5" ry="2" /><ellipse class="l" cx="789" cy="298.8" rx="2" ry="1.5" /><ellipse class="l" cx="810.3" cy="290.7" rx="4" ry="2.5" /><ellipse class="l" cx="798.8" cy="296" rx="5" ry="2.5" transform="rotate(10 798.8 296)" /><ellipse class="l" cx="783.3" cy="331.1" rx="3.5" ry="2" /><ellipse class="l" cx="819.2" cy="337.6" rx="3.5" ry="2" /><ellipse class="l" cx="841.4" cy="290.7" rx="6.2" ry="3.5" /><ellipse class="l" cx="851" cy="296.5" rx="4.5" ry="2.6" /><ellipse class="l" cx="863.8" cy="302.4" rx="8" ry="4" transform="rotate(15 863.8 302.4)" /><ellipse class="l" cx="887.4" cy="314.6" rx="9" ry="4.5" transform="rotate(20 887.4 314.6)" /><ellipse class="l" cx="899.5" cy="322.3" rx="4.3" ry="2.5" /><ellipse class="l" cx="910.1" cy="327.8" rx="5" ry="3" /><ellipse class="l" cx="859" cy="316.4" rx="3.5" ry="2" /><ellipse class="l" cx="908" cy="342.1" rx="3.5" ry="2" /><ellipse class="l" cx="832" cy="356.5" rx="3.5" ry="2" /><ellipse class="l" cx="867.5" cy="363.7" rx="3.5" ry="2" /><ellipse class="l" cx="880.5" cy="383" rx="3.5" ry="2" /><path class="l" d="M820,294.5 L820,289 Q822.5,286 825,289 L825,294.5" /><path class="l" d="M771.6,316.3 C772,314.9 772.7,310.2 774.2,307.7 C775.6,305.3 777.8,303.3 780.2,301.7 C782.6,300.2 784.2,299.3 788.8,298.3 C793.3,297.3 802.8,297 807.6,295.7 C812.5,294.4 815.1,290.6 817.9,290.6 C820.8,290.6 821.3,294.6 824.8,295.7 C828.2,296.9 834.2,296 838.5,297.4 C842.8,298.9 847.4,302 850.5,304.3 C853.7,306.6 857.1,309.2 857.4,311.2 C857.7,313.2 852.8,314.6 852.2,316.3 C851.6,318 851.9,320.9 853.9,321.5 C855.9,322 860.5,319.7 864.2,319.7 C867.9,319.7 871.9,320.3 876.2,321.5 C880.5,322.6 886.5,324.9 890,326.6 C893.4,328.3 894.8,329.7 896.8,331.7 C898.8,333.8 902,336.6 902,338.6 C902,340.6 897.1,342 896.8,343.8 C896.5,345.5 897.1,348 900.2,348.9 C903.4,349.8 913.1,348.9 915.7,348.9" /><path class="l" d="M771.6,316.3 C771.9,317.2 771.3,319.5 773.3,321.5 C775.3,323.5 779,326 783.6,328.3 C788.2,330.6 796.2,334.6 800.8,335.2 C805.3,335.8 807.1,331.7 811.1,331.7 C815.1,331.7 821.6,334 824.8,335.2 C827.9,336.3 829.9,336.9 829.9,338.6 C829.9,340.3 823.9,343.8 824.8,345.5 C825.6,347.2 830.5,346.9 835.1,348.9 C839.6,350.9 847.9,355.2 852.2,357.5 C856.5,359.8 857.9,362.3 860.8,362.6 C863.7,362.9 866.8,358.9 869.4,359.2 C871.9,359.5 876.2,362.6 876.2,364.3 C876.2,366.1 869.7,367.5 869.4,369.5 C869.1,371.5 871.7,374.3 874.5,376.3 C877.4,378.3 879.7,380.1 886.5,381.5 C893.4,382.9 910.8,384.4 915.7,384.9" /><path class="l" d="M820.8,359.7 L820.8,371.3 L831.6,376.7 L831.6,362" /><ellipse class="l" cx="825.7" cy="366" rx="3.3" ry="4" transform="rotate(-10 825.7 366)" /><line class="l" x1="834" y1="364" x2="834" y2="376" /><path class="l" d="M869.3,383.9 L869.3,395.5 L879.2,401 L879.2,387" /><ellipse class="l" cx="874.3" cy="391.1" rx="3.3" ry="4" transform="rotate(-10 874.3 391.1)" /><line class="l" x1="882" y1="389.5" x2="882" y2="401" /><line class="l" x1="772.2" y1="331.6" x2="772.2" y2="347" /><line class="l" x1="782.8" y1="335.7" x2="782.8" y2="352" /><line class="l" x1="785.3" y1="336.5" x2="785.3" y2="351" /><ellipse class="l" cx="777.1" cy="339.8" rx="3.5" ry="4.5" transform="rotate(-10 777.1 339.8)" /><line class="l" x1="796.7" y1="346.3" x2="796.7" y2="383.9" /><line class="l" x1="798.9" y1="347.3" x2="798.9" y2="382.4" /><line class="l" x1="807.3" y1="350.4" x2="807.3" y2="388.8" /><line class="l" x1="809.5" y1="351.4" x2="809.5" y2="387.3" /><line class="l" x1="815.4" y1="354" x2="815.4" y2="391" /><line class="l" x1="817.6" y1="355" x2="817.6" y2="389.5" /><line class="l" x1="846" y1="371.3" x2="846" y2="414.5" /><line class="l" x1="848.2" y1="372.3" x2="848.2" y2="413" /><line class="l" x1="856.7" y1="376.5" x2="856.7" y2="415" /><line class="l" x1="858.9" y1="377.5" x2="858.9" y2="413.5" /><line class="l" x1="864" y1="381" x2="864" y2="420" /><line class="l" x1="866.2" y1="382" x2="866.2" y2="418.5" /><line class="l" x1="894.5" y1="400" x2="894.5" y2="439.5" /><line class="l" x1="896.7" y1="401" x2="896.7" y2="438" /><line class="l" x1="904.4" y1="407" x2="904.4" y2="440" /><line class="l" x1="906.6" y1="408" x2="906.6" y2="438.5" /><path class="l" d="M846,414.5 Q851,419 856.7,415" /><path class="l" d="M796.7,383.9 Q802,390 807.3,388.8" /><path class="l" d="M894.5,439.5 Q899,444 904.4,440" /><line class="l" x1="771.5" y1="359" x2="760" y2="388" /><line class="l" x1="774.7" y1="359" x2="763.2" y2="388" /><line class="l" x1="788.6" y1="367.8" x2="805" y2="421.7" /><line class="l" x1="791.8" y1="367.8" x2="808.2" y2="421.7" /><line class="l" x1="826.2" y1="376" x2="806.5" y2="421.7" /><line class="l" x1="829.4" y1="376" x2="809.7" y2="421.7" /><line class="l" x1="830.8" y1="376" x2="849.5" y2="448.5" /><line class="l" x1="834" y1="376" x2="852.7" y2="448.5" /><line class="l" x1="876.9" y1="401" x2="850.5" y2="448.5" /><line class="l" x1="880.1" y1="401" x2="853.7" y2="448.5" /><line class="l" x1="881" y1="401.9" x2="899.9" y2="474.6" /><line class="l" x1="884.2" y1="401.9" x2="903.1" y2="474.6" /><line class="l" x1="925" y1="410" x2="901" y2="474.6" /><line class="l" x1="928.2" y1="410" x2="904.2" y2="474.6" /><ellipse class="l" cx="779.5" cy="382.3" rx="9.8" ry="10.6" transform="rotate(-25 779.5 382.3)" style="fill:#fff"/><ellipse class="l" cx="780" cy="382.3" rx="6.5" ry="8.2" transform="rotate(-25 780 382.3)" /><ellipse class="l" cx="781" cy="382.8" rx="5.2" ry="7" transform="rotate(-25 781 382.8)" /><line class="l" x1="774.5" y1="390.3" x2="775" y2="411.3" /><line class="l" x1="783.5" y1="391.8" x2="783.5" y2="412.3" /><path class="l" d="M775,411.3 Q779.5,414.3 783.5,412.3" /><ellipse class="l" cx="828" cy="407.3" rx="9.5" ry="10.5" transform="rotate(-25 828 407.3)" style="fill:#fff"/><ellipse class="l" cx="828.5" cy="407.3" rx="6" ry="8" transform="rotate(-25 828.5 407.3)" /><ellipse class="l" cx="829.5" cy="407.8" rx="4.8" ry="6.8" transform="rotate(-25 829.5 407.8)" /><line class="l" x1="823" y1="415.3" x2="823.5" y2="436.3" /><line class="l" x1="832" y1="416.8" x2="832" y2="437.3" /><path class="l" d="M823.5,436.3 Q828,439.3 832,437.3" /><ellipse class="l" cx="876.5" cy="433.3" rx="10.8" ry="12.1" transform="rotate(-25 876.5 433.3)" style="fill:#fff"/><ellipse class="l" cx="877" cy="433.3" rx="6.5" ry="8.5" transform="rotate(-25 877 433.3)" /><ellipse class="l" cx="878" cy="433.8" rx="5.2" ry="7.2" transform="rotate(-25 878 433.8)" /><line class="l" x1="871.5" y1="441.3" x2="872" y2="462.3" /><line class="l" x1="880.5" y1="442.8" x2="880.5" y2="463.3" /><path class="l" d="M872,462.3 Q876.5,465.3 880.5,463.3" /><path class="l" d="M758,343.5 L768,339.5 Q774,339 774,346 L772,352.5 L764,356.5" /><ellipse class="l" cx="761.2" cy="350" rx="5.7" ry="6.9" transform="rotate(-10 761.2 350)" style="fill:#fff"/><ellipse class="l" cx="761.6" cy="350.3" rx="2" ry="2.5" transform="rotate(-10 761.6 350.3)" /><line class="l" x1="767.3" y1="346.3" x2="785.3" y2="353.7" /><line class="l" x1="767.3" y1="357" x2="782" y2="363.5" /><path class="l" d="M784,357.5 L797,354 Q806,354 804,362 L798,368.5 L790,371" /><ellipse class="l" cx="787.3" cy="363.9" rx="6" ry="7" transform="rotate(-10 787.3 363.9)" style="fill:#fff"/><ellipse class="l" cx="787.7" cy="364.2" rx="2" ry="2.5" transform="rotate(-10 787.7 364.2)" /><path class="l" d="M749.3,338.2 Q746,343 748.5,348.8 L757.5,355.3 Q758,362 755.8,366.8 L752.6,374.1 Q752,377 753.4,378.2 L757.5,380.7 L755,387.2 L746.9,394.5 L744.4,403.5 L740,420 L733.8,447.4" /><path class="l" d="M755,366 Q760,368 763,363 M753,378 Q760,380 766,376" /><path class="l" d="M751.5,394.2 L768.5,387.8 Q774,388 773,395 L771,400.5 L757,406.5" /><ellipse class="l" cx="753.4" cy="400.3" rx="5.5" ry="6.5" transform="rotate(-10 753.4 400.3)" style="fill:#fff"/><ellipse class="l" cx="753.8" cy="400.6" rx="3.2" ry="4" transform="rotate(-10 753.8 400.6)" /><path class="l" d="M744.4,404.5 L733.4,448.6" /><path class="l" d="M750.5,408.2 L739.5,448.6" /><path class="l" d="M744.4,404.5 L746.9,398.4 L751.8,397.2 L750.5,408.2" /><path class="l" d="M755.4,411.9 C753.9,415.1 748.4,424.5 746.2,431.5 C744.1,438.4 743.2,449.9 742.6,453.5" /><path class="l" d="M762.2,411.9 C760.4,415.3 754.1,425.5 751.8,432.7 C749.4,439.8 748.7,451.1 748.1,454.8" /><path class="l" d="M755.4,411.9 L762.2,411.9" /><path class="l" d="M781.8,422.9 C779.8,426.4 773.1,436.6 770.1,443.7 C767.2,450.9 765,462.1 764,465.8" /><path class="l" d="M786.7,424.1 C784.8,427.6 777.9,437.9 775,445 C772.2,452 770.5,462.8 769.5,466.4" /><path class="l" d="M806.3,441.3 C804.4,444.1 797.9,452.3 794.7,458.4 C791.4,464.6 788,474.8 786.7,478" /><path class="l" d="M809.4,446.2 C807.7,448.6 802.4,455.8 799.6,460.9 C796.7,466 793.4,474.2 792.2,476.8" /><path class="l" d="M824.1,445 L814.9,465.8" /><path class="l" d="M827.1,446.2 L818.6,465.8" /><path class="l" d="M748.1,454.8 L755.4,458.4 L764,465.8" /><path class="l" d="M733.4,448.6 L739.5,448.6 L742.6,453.5" /><path class="l" d="M783.6,410.6 L805.7,420.4 L865,448.6" /><path class="l" d="M783.6,415.5 L803.2,424.1 L865,453.5" /><path class="l" d="M773.8,404.5 L783.6,410.6" /><path class="l" d="M788.5,392.3 L788.5,410.6" /><ellipse class="l" cx="772.2" cy="419.6" rx="5" ry="6" transform="rotate(-15 772.2 419.6)" style="fill:#fff"/><ellipse class="l" cx="772.6" cy="419.8" rx="3" ry="4" transform="rotate(-15 772.6 419.8)" /><ellipse class="l" cx="794.2" cy="429.4" rx="9" ry="6" transform="rotate(30 794.2 429.4)" style="fill:#fff"/><ellipse class="l" cx="794.6" cy="429.6" rx="2.5" ry="3" transform="rotate(-10 794.6 429.6)" /><path class="l" d="M779,443 L797,436 Q803,438 802,445 L798,449 L781,455.5" /><ellipse class="l" cx="777.9" cy="449" rx="4.5" ry="6" transform="rotate(-10 777.9 449)" style="fill:#fff"/><ellipse class="l" cx="778.2" cy="449.3" rx="2" ry="2.6" transform="rotate(-10 778.2 449.3)" /><path class="l" d="M795,448.5 L815,439.2 L848.6,455.7 L898.1,471.9 L920,478" /><path class="l" d="M810,424.3 L848,444" /><path class="l" d="M783,454.4 L795,448.5" /><path class="l" d="M773.2,468.8 L795,474" /><line class="l" x1="826.4" y1="444.1" x2="870" y2="466" /><line class="l" x1="827.2" y1="458" x2="870" y2="478" /><line class="l" x1="815.8" y1="465.3" x2="825.6" y2="444.9" /><line class="l" x1="820.7" y1="467" x2="827.5" y2="447" /><path class="l" d="M786.3,477.8 Q786.5,475 788.8,475.1 L808.4,473.5 L815.8,476.8 L833.7,486.2 Q837.8,488 837.8,492 L837.8,513.5 Q837.5,521 833.7,523.3 L814.1,515.2 L804.3,507.8 L797,497.2 L792.5,491.1 Z" style="fill:#fff"/><path class="l" d="M815.8,475.1 L833.7,464.5 L855,474.3 L834.5,485.8" /><path class="l" d="M837.8,492.3 L856.6,483.3 L856.6,500" /><path class="l" d="M808.4,473.5 L827.2,463.7" /><ellipse class="l" cx="790.4" cy="480.8" rx="2" ry="2.8" transform="rotate(-20 790.4 480.8)" /><ellipse class="l" cx="833.3" cy="490.7" rx="2" ry="2.8" transform="rotate(-20 833.3 490.7)" /><ellipse class="l" cx="827.2" cy="500.5" rx="2" ry="2.8" transform="rotate(-20 827.2 500.5)" /><line class="l" x1="826.4" y1="499" x2="828" y2="502" /><ellipse class="l" cx="827.2" cy="511.1" rx="2" ry="2.8" transform="rotate(-20 827.2 511.1)" /><line class="l" x1="826.4" y1="509.6" x2="828" y2="512.6" /><ellipse class="l" cx="833.3" cy="519.7" rx="2" ry="2.8" transform="rotate(-20 833.3 519.7)" /><path class="l" d="M770,492.3 L780.6,489.8 L780.6,497 L786,499.5 L786,494 L792.9,497 L792.9,503.7 L804.3,507.8" /><line class="l" x1="804.3" y1="507.8" x2="804.3" y2="521.5" /><line class="l" x1="812.5" y1="513.5" x2="812.5" y2="521" /><path class="l" d="M804.3,521.5 L808,522.5 L812.5,521" /><path class="l" d="M722.8,458.3 L722.8,453.7 L733.3,447.2 L737.9,449.8 L741.1,454.4" /><path class="l" d="M722.8,458.3 L732,462.9 L732,487.7" /><path class="l" d="M722.8,482.5 L732,477.3" /><path class="l" d="M722.8,482.5 L722.8,487.1 L736.6,494.9 L736.6,498.8 L741.1,500.8 L741.1,497" /><path class="l" d="M734,458.3 Q739,459 741.1,461.6 L743.8,464.8 L753.6,470.1 L756.8,469.4 Q762,471 763.4,474 L764,505.4" /><path class="l" d="M740.5,471.4 L752.9,474.6 L755.5,479.2 L752.9,487.7 L756.2,492.3 L753.6,497.5 L743.8,493.6 Q741,488 740.5,483.8 Q742,477 740.5,471.4 Z" /><line class="l" x1="741" y1="484" x2="754" y2="480" /><ellipse class="l" cx="737.9" cy="464.2" rx="2.3" ry="3.4" transform="rotate(-25 737.9 464.2)" /><ellipse class="l" cx="737.9" cy="476.6" rx="2.3" ry="3.4" transform="rotate(-25 737.9 476.6)" /><ellipse class="l" cx="737.9" cy="489" rx="2.3" ry="3.4" transform="rotate(-25 737.9 489)" /><ellipse class="l" cx="759.1" cy="475.3" rx="2.3" ry="3.4" transform="rotate(-25 759.1 475.3)" /><ellipse class="l" cx="759.1" cy="487.7" rx="2.3" ry="3.4" transform="rotate(-25 759.1 487.7)" /><ellipse class="l" cx="759.1" cy="500.1" rx="2.3" ry="3.4" transform="rotate(-25 759.1 500.1)" /><ellipse class="l" cx="776.3" cy="481.6" rx="6" ry="5" transform="rotate(-20 776.3 481.6)" /><ellipse class="l" cx="775.8" cy="481.2" rx="2.8" ry="3.4" transform="rotate(-20 775.8 481.2)" style="stroke-width:1.6"/><path class="l" d="M764.7,485.8 Q770,476 781.7,474" /><path class="l" d="M764,487.1 L776.4,494.2 L776.4,484" /><path class="l" d="M780.4,489.7 L780.4,498 L786,500" /><path class="l" d="M785.6,476.6 L792.8,491" /><path class="l" d="M724.2,489 L757.5,505.4 L844,551.5" /><path class="l" d="M741.1,497.5 L757.5,506.5 L844.2,554.5 L866,566 L884.5,575.3" /><path class="l" d="M722.8,487.1 L722.8,490.4" /><path class="l" d="M764.7,490.3 L844,533" /><path class="l" d="M884.5,575.3 L916.4,559.1" /><path class="l" d="M871.8,568.9 L884.5,575.3" /><path class="l" d="M839.7,514 L844.2,520.3 L844.2,555.4 L848,557.5 L848,553.5" /><path class="l" d="M849,528 L849,549" /><path class="l" d="M844.2,520.3 Q850,516 856,520 L866,526 Q870,520 876,518 Q884,519 884,527 L884,571.4" /><line class="l" x1="888" y1="510" x2="888" y2="564" /><ellipse class="l" cx="846.4" cy="521.7" rx="2.4" ry="3.4" transform="rotate(-20 846.4 521.7)" /><ellipse class="l" cx="846.4" cy="546.4" rx="2.4" ry="3.4" transform="rotate(-20 846.4 546.4)" /><ellipse class="l" cx="867.1" cy="557.6" rx="2.4" ry="3.4" transform="rotate(-20 867.1 557.6)" /><ellipse class="l" cx="866.6" cy="532.9" rx="2.4" ry="3.4" transform="rotate(-20 866.6 532.9)" /><ellipse class="l" cx="875.6" cy="524.8" rx="6" ry="7" transform="rotate(-20 875.6 524.8)" /><ellipse class="l" cx="876" cy="525" rx="3.8" ry="4.8" transform="rotate(-20 876 525)" /><path class="l" d="M850,533 Q852,528 858,530 L862,534 L862,544 L852,550 Q850,545 850,533 Z" /><path class="l" d="M869.8,553.2 L882.5,548.8" /><path class="l" d="M872.3,562.5 L882.5,556.2" /><path class="l" d="M869.8,538 L869.8,553.2 L872.3,562.5 L882.5,567.5 L888,564" /><ellipse class="l" cx="905.7" cy="517.6" rx="4.5" ry="5.5" transform="rotate(30 905.7 517.6)" /><ellipse class="l" cx="906" cy="517.9" rx="2.7" ry="3.6" transform="rotate(30 906 517.9)" /><ellipse class="l" cx="905.6" cy="549.3" rx="5" ry="7" transform="rotate(30 905.6 549.3)" /><ellipse class="l" cx="905.9" cy="549.6" rx="3" ry="4.5" transform="rotate(30 905.9 549.6)" /><ellipse class="l" cx="893.1" cy="524.4" rx="2" ry="2.8" transform="rotate(30 893.1 524.4)" /><ellipse class="l" cx="894.5" cy="532" rx="2" ry="2.8" transform="rotate(30 894.5 532)" /><ellipse class="l" cx="897.3" cy="564" rx="2.4" ry="3.5" transform="rotate(30 897.3 564)" /><ellipse class="l" cx="910.2" cy="483" rx="2.5" ry="3" transform="rotate(30 910.2 483)" /><ellipse class="l" cx="910.5" cy="483.3" rx="1.5" ry="2" transform="rotate(30 910.5 483.3)" /><ellipse class="l" cx="896.7" cy="501.9" rx="2" ry="2.5" transform="rotate(30 896.7 501.9)" /><path class="l" d="M863.9,470 L853.1,499.7" /><path class="l" d="M871.1,471.8 L860.3,501.5" /><path class="l" d="M888.2,479 L876.5,511.3" /><path class="l" d="M892,480 L880,512" /><path class="l" d="M853.1,499.7 L876.5,511.3" /><path class="l" d="M856.6,500 L876.5,511.3" /><path class="l" d="M912,440 C911.3,442.5 908.3,450 908,455 C907.7,460 910.5,464.2 910,470 C909.5,475.8 906.7,484.2 905,490 C903.3,495.8 902.2,500.3 900,505 C897.8,509.7 893.7,513.8 892,518 C890.3,522.2 890.3,528 890,530" /><ellipse class="l" cx="896.3" cy="481.7" rx="3.5" ry="4.5" transform="rotate(-20 896.3 481.7)" /><ellipse class="l" cx="896.5" cy="482" rx="2" ry="2.6" transform="rotate(-20 896.5 482)" /></g><line class="l" x1="773.9" y1="517.7" x2="773.9" y2="544.5" /><circle class="l" cx="773.9" cy="554.6" r="10"/><g transform="translate(770.2,559.8) scale(0.800,1)"><path d="M5,0 L5,-10 M5.2,-9.8 L1.8,-7.7" style="fill:none;stroke:#000;stroke-width:1.96;stroke-linecap:butt"/></g><line class="l" x1="785.5" y1="554.5" x2="791" y2="554.5" /><g transform="translate(791.2,559.8) scale(0.800,1)"><path d="M5,0 L5,-10 M5.2,-9.8 L1.8,-7.7" style="fill:none;stroke:#000;stroke-width:1.96;stroke-linecap:butt"/></g>
<!-- e_pan -->
<path class="l" d="M412.4,600.3 L521.5,540.3 L526.5,543 L531,543.5 L538.1,540.8 L634,592 L639,601.4 L693.9,632.7 L698.1,641.3 L698,646 L696,651 L611.5,695 L589.6,691.8 L560,705.7 L537.7,718.4 L441.6,668 L438.2,664 L434.2,665.2 L432.5,672 L415.9,663.5 L412.4,642.7Z" style="fill:#fff"/><path class="l" d="M412.4,600.3 L416.4,605.2 L417.3,610 L519.4,660.7" /><line class="l" x1="415.9" y1="610" x2="415.9" y2="663.5" /><path class="l" d="M518.2,697 L518.2,661.7 Q520,659.5 522.8,660" /><line class="l" x1="525.1" y1="663.5" x2="525.1" y2="693.2" /><path class="l" d="M415.9,642.9 Q416.5,648 419.9,649.7 L447.3,662.9 Q452,664 454.2,660 Q451.5,659 451.9,657.7 L451.9,637.2 Q452.5,633.5 455.3,634.3 L480.5,648.6 Q483.9,651 483.9,654.3 L483.9,678.3 Q484.5,682 488.5,684 L513.7,698.9 Q517,699.5 519.4,695.5 Q521.5,694 524,695" /><line class="l" x1="457" y1="635.4" x2="457" y2="655.5" /><ellipse class="l" cx="423.3" cy="621.7" rx="2.6" ry="3" transform="rotate(-25 423.3 621.7)" style="stroke-width:1.6"/><line class="l" x1="422.1" y1="620.2" x2="424.5" y2="623.2" /><ellipse class="l" cx="444.5" cy="632" rx="2.6" ry="3" transform="rotate(-25 444.5 632)" style="stroke-width:1.6"/><line class="l" x1="443.3" y1="630.5" x2="445.7" y2="633.5" /><ellipse class="l" cx="422.7" cy="645.2" rx="2.6" ry="3" transform="rotate(-25 422.7 645.2)" style="stroke-width:1.6"/><line class="l" x1="421.5" y1="643.7" x2="423.9" y2="646.7" /><ellipse class="l" cx="444.5" cy="656" rx="2.6" ry="3" transform="rotate(-25 444.5 656)" style="stroke-width:1.6"/><line class="l" x1="443.3" y1="654.5" x2="445.7" y2="657.5" /><ellipse class="l" cx="489.6" cy="655.5" rx="2.6" ry="3" transform="rotate(-25 489.6 655.5)" style="stroke-width:1.6"/><line class="l" x1="488.4" y1="654" x2="490.8" y2="657" /><ellipse class="l" cx="512" cy="667.5" rx="2.6" ry="3" transform="rotate(-25 512 667.5)" style="stroke-width:1.6"/><line class="l" x1="510.8" y1="666" x2="513.2" y2="669" /><ellipse class="l" cx="490.2" cy="679.5" rx="2.6" ry="3" transform="rotate(-25 490.2 679.5)" style="stroke-width:1.6"/><line class="l" x1="489" y1="678" x2="491.4" y2="681" /><ellipse class="l" cx="512" cy="691.5" rx="2.6" ry="3" transform="rotate(-25 512 691.5)" style="stroke-width:1.6"/><line class="l" x1="510.8" y1="690" x2="513.2" y2="693" /><ellipse class="l" cx="424.6" cy="601.1" rx="3" ry="1.8" /><ellipse class="l" cx="447" cy="612.4" rx="3" ry="1.8" /><ellipse class="l" cx="468.8" cy="624.1" rx="3" ry="1.8" /><ellipse class="l" cx="491.8" cy="635.8" rx="3" ry="1.8" /><ellipse class="l" cx="514.6" cy="648.9" rx="3" ry="1.8" /><ellipse class="l" cx="537.5" cy="660.7" rx="3" ry="1.8" /><ellipse class="l" cx="559.7" cy="671.8" rx="3" ry="1.8" /><ellipse class="l" cx="523.8" cy="546.2" rx="3" ry="1.8" /><ellipse class="l" cx="507.1" cy="554.7" rx="3" ry="1.8" /><ellipse class="l" cx="547.1" cy="558.3" rx="3" ry="1.8" /><ellipse class="l" cx="569.6" cy="570" rx="3" ry="1.8" /><ellipse class="l" cx="592.1" cy="582.1" rx="3" ry="1.8" /><ellipse class="l" cx="614.6" cy="594" rx="3" ry="1.8" /><ellipse class="l" cx="521.8" cy="603.1" rx="3" ry="1.8" /><ellipse class="l" cx="560.4" cy="624" rx="3" ry="1.8" /><ellipse class="l" cx="510.1" cy="629.3" rx="3" ry="1.8" /><ellipse class="l" cx="660.5" cy="616.8" rx="3" ry="1.8" /><ellipse class="l" cx="678.5" cy="629" rx="3" ry="1.8" /><ellipse class="l" cx="685" cy="646.2" rx="3" ry="1.8" /><ellipse class="l" cx="662.2" cy="659.3" rx="3" ry="1.8" /><ellipse class="l" cx="638.5" cy="671.5" rx="3" ry="1.8" /><ellipse class="l" cx="614" cy="684.6" rx="3" ry="1.8" /><ellipse class="l" cx="584.5" cy="680.5" rx="3" ry="1.8" /><path class="l" d="M698,646 L696,651 L612,694.5" /><path class="l" d="M696,651 L693,656 L611,699 L590,692" /><path class="l" d="M604,699.7 q1.5,4 5,2" /><path class="l" d="M622,690.3 q1.5,4 5,2" /><path class="l" d="M642,679.9 q1.5,4 5,2" /><path class="l" d="M662,669.5 q1.5,4 5,2" /><path class="l" d="M680,660.1 q1.5,4 5,2" /><line class="l" x1="443.8" y1="586.4" x2="479.9" y2="567.3" /><line class="l" x1="449" y1="588.5" x2="483" y2="570.5" /><line class="l" x1="451" y1="590.5" x2="491.6" y2="569.5" /><line class="l" x1="489" y1="558.3" x2="511.8" y2="545" /><path class="l" d="M504,557 Q512,554 522,554.3 Q530,554.5 533.6,556.1 L619.4,601.4" /><path class="l" d="M504.9,563.3 Q514,559 523.8,558.8 Q530,559 533.6,560.1 L616.5,603.3" /><path class="l" d="M629.2,606.3 L683,637.5 Q687,641 684,642.5" /><line class="l" x1="627.3" y1="609.2" x2="683.1" y2="642.5" /><path class="l" d="M693.9,632.7 Q699,637 698.8,644.5" /><path class="l" d="M443.8,591.7 Q438,600 441.7,605 L563.7,667.2" /><path class="l" d="M461.9,604.5 Q462,594 467,588 L491.6,576.9" /><path class="l" d="M461.9,604.5 Q465,612 478.9,615.6 L529.8,590.7" /><path class="l" d="M465,596 Q466,590 470,587.5 L494,576" /><path class="l" d="M513,570.9 L524.7,570.9 Q538,573.5 543,577.5 Q547.5,581.5 539,585.3" /><line class="l" x1="514" y1="572.5" x2="540" y2="582" /><path class="l" d="M548,601.8 L503,623 Q499,626 503.5,629.3 Q510,635 519.2,635.8 L567.6,612.3" /><line class="l" x1="506" y1="624.5" x2="548" y2="604.6" /><path class="l" d="M587.2,622.7 L546,642 Q541,645 546,648 L570,660" /><line class="l" x1="549" y1="644.5" x2="586" y2="626.5" /><path class="l" d="M593.7,614.9 L616,618 Q625,621 625.1,628 Q625,636 619,640 L584.6,659.3" /><path class="l" d="M611,619 L618.5,621" /><path class="l" d="M559.7,592.7 Q561,590 565,591 L581,599.5 Q584,602 581,604 L563,597 Q559,595.5 559.7,592.7 Z" /><path class="l" d="M471,578.5 Q471,572 477,573 Q481,576 478,582 Q474,584 471,578.5 Z" /><path class="l" d="M496,562 Q497,556 502,557 Q506,560 503,565.5 Q499,567 496,562 Z" /><path class="l" d="M441,593 Q442,587 447,588 Q451,591 448,596 Q444,598 441,593 Z" /><ellipse class="l" cx="440.6" cy="592" rx="2.8" ry="1.8" /><path class="l" d="M565.3,665.3 Q562,661 565,657 Q570,653 576,653.5 Q584.5,655 584.8,663 Q584.5,669 578,670 Q573,671.5 574.3,671.6 Q577,674 586.9,670.7" /><ellipse class="l" cx="574.3" cy="664.4" rx="4.9" ry="2.6" /><path class="l" d="M570,641.5 L570,651 Q574.7,653.5 579.4,651 L579.4,641.5" /><ellipse class="l" cx="574.7" cy="641.5" rx="4.7" ry="2.2" /><ellipse class="l" cx="574.7" cy="641.5" rx="2.8" ry="1.2" /><line class="l" x1="574.7" y1="654" x2="574.7" y2="661" /><path class="l" d="M579.6,643.8 L663.8,615.2 L698.1,614.3" /><g transform="translate(704.6,620.2) scale(0.800,1)"><path d="M5.4,0 L5.4,-10.7 M5.6,-10.5 L2,-8.2" style="fill:none;stroke:#000;stroke-width:2.10;stroke-linecap:butt"/><text x="8.3" y="0" class="t" font-size="15" font-weight="normal" style="stroke:#000;stroke-width:0.6">0</text></g><path class="l" d="M681.5,633 Q686,637 682,641.5 L611,677.5 Q606,680 600.6,679.3 L583,671.5 Q579,669.5 577,667" /><path class="l" d="M643,634.5 L659.5,630 Q661.5,631 660,633 L644.5,637.5 Q642,637 643,634.5 Z" /><path class="l" d="M595,664 L612,658.5 Q614,659.5 612.5,661.5 L596.5,667 Q594,666.5 595,664 Z" /><path class="l" d="M519.5,660.8 L528.5,661.2 L591.4,686" /><line class="l" x1="524.9" y1="663.5" x2="524.9" y2="692.2" /><path class="l" d="M518.2,696.7 L526.7,695.8" /><ellipse class="l" cx="526.7" cy="674.3" rx="2.2" ry="1.5" /><ellipse class="l" cx="538.4" cy="676.1" rx="5.5" ry="3.2" /><path class="l" d="M533,677 Q538.4,680 543.9,677" /><line class="l" x1="539" y1="683" x2="539.8" y2="711" /><path class="l" d="M553.6,685 L553.6,700.3 Q555,704 560,703 Q566,701 570,699 L577.9,696.7 L579.7,688.6" /><path class="l" d="M553.6,685 Q556,683 560,684" /><line class="l" x1="563.5" y1="683.5" x2="563.5" y2="700.5" /><line class="l" x1="568.9" y1="686" x2="568.9" y2="697" /><ellipse class="l" cx="586" cy="681.5" rx="3.5" ry="2.5" /><ellipse class="l" cx="586.3" cy="681.8" rx="1.6" ry="1.1" /><path d="M423.1,525.9 Q419.6,524 423.2,522.2 L517.9,475.6 Q521.5,473.8 525,475.7 L669.7,552.2 Q673.2,554.1 674.5,557.9 L679.7,573.2 Q681,577 677.5,578.9 L617,611.7 Q613.5,613.6 609.5,613.4 L582,611.7 Q578,611.5 574.5,609.6Z M429.2,525.6 Q426.5,524.2 429.2,522.9 L517.8,481.3 Q520.5,480 523.1,481.4 L665.4,557.4 Q668,558.8 669,561.6 L672.8,572.7 Q673.8,575.5 671.1,576.9 L614.7,606.4 Q612,607.8 609,607.6 L583.5,605.5 Q580.5,605.3 577.8,603.9Z" style="fill:#fff;fill-rule:evenodd;stroke:#000;stroke-width:1.3;stroke-linejoin:round"/><line class="l" x1="424.1" y1="671" x2="424.1" y2="684" /><path class="l" d="M420.5,736 L420.5,685.8 Q424.1,682.8 427.7,685.8 L427.7,736" /><path class="l" d="M420.5,687.3 Q424.1,688.9 427.7,687.3" /><path class="l" d="M420.5,689.9 Q424.1,691.5 427.7,689.9" /><path class="l" d="M420.5,692.5 Q424.1,694.1 427.7,692.5" /><path class="l" d="M420.5,695.1 Q424.1,696.7 427.7,695.1" /><path class="l" d="M420.5,697.7 Q424.1,699.3 427.7,697.7" /><path class="l" d="M420.5,700.3 Q424.1,701.9 427.7,700.3" /><path class="l" d="M420.5,702.9 Q424.1,704.5 427.7,702.9" /><line class="l" x1="420.5" y1="705.3" x2="427.7" y2="705.3" /><path class="l" d="M420.5,733 A9.4,3.6 0 0 1 414.7,736" /><path class="l" d="M427.7,733 A9.4,3.6 0 0 0 433.5,736" /><path class="l" d="M414.7,736 A9.4,3.6 0 0 0 433.5,736" /><path class="l" d="M420.5,736 Q424.1,737.6 427.7,736" /><path class="l" d="M414.7,736 L416.2,743.5 Q424.1,748 432,743.5 L433.5,736" /><path class="l" d="M416.2,740.4 L420.3,741.4 L427.9,741.4 L432,740.4" /><path class="l" d="M415,737.4 A9.1,3.6 0 0 0 433.2,737.4" /><line class="l" x1="420.3" y1="741.4" x2="420.3" y2="745.3" /><line class="l" x1="427.9" y1="741.4" x2="427.9" y2="745.3" /><line class="l" x1="376.1" y1="737.2" x2="415" y2="737.2" /><g transform="translate(358,743.5) scale(0.800,1)"><path d="M5.4,0 L5.4,-10.7 M5.6,-10.5 L2,-8.2" style="fill:none;stroke:#000;stroke-width:2.10;stroke-linecap:butt"/><text x="8.3" y="0" class="t" font-size="15" font-weight="normal" style="stroke:#000;stroke-width:0.6">2</text></g><line class="l" x1="685.5" y1="661.6" x2="685.5" y2="671" /><path class="l" d="M682.2,692 L682.2,673.7 Q685.5,670.7 688.8,673.7 L688.8,692" /><path class="l" d="M682.2,675.2 Q685.5,676.8 688.8,675.2" /><path class="l" d="M682.2,677.8 Q685.5,679.4 688.8,677.8" /><path class="l" d="M682.2,680.4 Q685.5,682 688.8,680.4" /><path class="l" d="M682.2,683 Q685.5,684.6 688.8,683" /><line class="l" x1="682.2" y1="685.5" x2="688.8" y2="685.5" /><path class="l" d="M682.2,689.3 A8.5,3.3 0 0 1 677,692" /><path class="l" d="M688.8,689.3 A8.5,3.3 0 0 0 694,692" /><path class="l" d="M677,692 A8.5,3.3 0 0 0 694,692" /><path class="l" d="M682.2,692 Q685.5,693.6 688.8,692" /><path class="l" d="M677,692 L678.5,698 Q685.5,702.5 692.5,698 L694,692" /><path class="l" d="M678.5,696.1 L681.7,697.1 L689.3,697.1 L692.5,696.1" /><path class="l" d="M677.3,693.4 A8.2,3.3 0 0 0 693.7,693.4" /><line class="l" x1="681.7" y1="697.1" x2="681.7" y2="699.8" /><line class="l" x1="689.3" y1="697.1" x2="689.3" y2="699.8" /><line class="l" x1="696.1" y1="691" x2="713.1" y2="691" /><g transform="translate(718.4,695.8) scale(0.800,1)"><path d="M5.4,0 L5.4,-10.7 M5.6,-10.5 L2,-8.2" style="fill:none;stroke:#000;stroke-width:2.10;stroke-linecap:butt"/><text x="8.3" y="0" class="t" font-size="15" font-weight="normal" style="stroke:#000;stroke-width:0.6">4</text></g><g transform="translate(627.2,706.3) rotate(33)"><path class="l" d="M-7,-4.5 L4,-4.5 M-7,4.5 L4,4.5" /><ellipse class="l" cx="4" cy="0" rx="2.6" ry="4.8" /><ellipse class="l" cx="4" cy="0" rx="1.2" ry="2.2" /><path class="l" d="M-7,-4.5 Q-5,0 -7,4.5" /><path class="l" d="M-4.8,-4.5 Q-2.8,0 -4.8,4.5" /><path class="l" d="M-2.6,-4.5 Q-0.6,0 -2.6,4.5" /><path class="l" d="M-0.4,-4.5 Q1.6,0 -0.4,4.5" /><path class="l" d="M1.8,-4.5 Q3.8,0 1.8,4.5" /></g><line class="l" x1="589" y1="685" x2="620" y2="701.5" style="stroke-dasharray:none"/><path class="l" d="M633.5,710.4 Q636,715.8 640,715.8 L713.1,715.8" /><g transform="translate(720.5,721.3) scale(0.800,1)"><text x="0" y="0" class="t" font-size="15" font-weight="normal" style="stroke:#000;stroke-width:0.6">5</text></g><line class="l" x1="699.3" y1="645.2" x2="713.1" y2="645.2" /><g transform="translate(717.4,651.2) scale(0.800,1)"><text x="0" y="0" class="t" font-size="15" font-weight="normal" style="stroke:#000;stroke-width:0.6">X</text><text x="10" y="0" class="t" font-size="15" font-weight="normal" style="stroke:#000;stroke-width:0.6">4</text></g><path class="l" d="M735.4,645.2 L746,645.2 L746,715.8 L735.4,715.8" /><line class="l" x1="746" y1="680.7" x2="758.8" y2="680.7" /><g transform="translate(766.2,686.2) scale(0.800,1)"><text x="0" y="0" class="t" font-size="15" font-weight="normal" style="stroke:#000;stroke-width:0.6">3</text></g>
<!-- f_lowerpan -->
<path class="l" d="M432.5,854.2 L456,867 L496.4,896.5 L530,914 Q537.7,917 545,913 L573.4,894 L580,880 L648.6,850.5 L648.6,845.8 L541.5,791.3 L431.6,849.5 Z" style="fill:#fff;stroke:none"/><path class="l" d="M457,866 Q458,873 466,878 L496.4,896.5 L530,914 Q537.7,917 545,913 Q556,906 566,897 Q573.4,890 577,881" /><path class="l" d="M431.6,849.5 Q431,847 434,845.5 L538,791.8 Q541.5,790 545,791.8 L645.5,843.5 Q649.5,846 645.5,848.5 L541,905 Q537.7,907 534.5,905 L434,852 Q431.5,850.5 431.6,849.5 Z" /><path class="l" d="M432.5,849.5 L432.5,854.2 Q433,856 436,857 L534.5,910 Q537.7,911.5 541,910 L645.5,853 Q648.6,851.5 648.6,850.5 L648.6,846" /><line class="l" x1="537.7" y1="907" x2="537.7" y2="911" /><path class="l" d="M456.9,849.5 Q457,846 461,843.5 L536,805.5 Q541.5,803 547,805.5 L619,842 Q623.2,845 619,848.5 L542,891.5 Q537.7,893.5 533,891.5 L461,855 Q456.8,852.5 456.9,849.5 Z" /><path class="l" d="M472,858.9 L496.4,827 Q498,823.5 503,822" /><line class="l" x1="496.4" y1="834.5" x2="530.2" y2="853.3" /><line class="l" x1="545.3" y1="860.8" x2="571.6" y2="875.8" /><path class="l" d="M529.3,866.4 Q531,857 537.7,853.3 L590.3,828.9 Q595,826.5 597,830" /><path class="l" d="M533,866 Q533.5,859 540,856.5 L592,832" /><path class="l" d="M514,817 L541,803.5" /><path class="l" d="M560,812 L588,826" /><ellipse class="l" cx="548.1" cy="797.9" rx="3" ry="1.8" /><ellipse class="l" cx="517.1" cy="808.2" rx="3" ry="1.8" /><ellipse class="l" cx="571.6" cy="810.1" rx="3" ry="1.8" /><ellipse class="l" cx="490.8" cy="822.3" rx="3" ry="1.8" /><ellipse class="l" cx="594.1" cy="822.3" rx="3" ry="1.8" /><ellipse class="l" cx="465.4" cy="835.4" rx="3" ry="1.8" /><ellipse class="l" cx="616.7" cy="834.5" rx="3" ry="1.8" /><ellipse class="l" cx="445.7" cy="852.3" rx="3" ry="1.8" /><ellipse class="l" cx="641.1" cy="846.7" rx="3" ry="1.8" /><ellipse class="l" cx="468.2" cy="865.5" rx="3" ry="1.8" /><ellipse class="l" cx="613.8" cy="860.8" rx="3" ry="1.8" /><ellipse class="l" cx="491.7" cy="877.7" rx="3" ry="1.8" /><ellipse class="l" cx="588.5" cy="874" rx="3" ry="1.8" /><ellipse class="l" cx="514.3" cy="889" rx="3" ry="1.8" /><ellipse class="l" cx="563.1" cy="888" rx="3" ry="1.8" /><path class="l" d="M530.1,904.5 L530.8,911.5 Q537.6,915.5 544.2,911.5 L544.8,904.5 Z" style="fill:#fff"/><line class="l" x1="534.3" y1="906.5" x2="534.6" y2="913" /><line class="l" x1="541" y1="906.5" x2="540.8" y2="913" /><ellipse class="l" cx="537.6" cy="903.3" rx="5" ry="2.7" style="fill:#fff;stroke-width:1.7"/><ellipse class="l" cx="537.6" cy="903.3" rx="2" ry="1" /><path class="l" d="M472.9,913 L485.1,913 L496.4,895.6" /><g transform="translate(454.2,919) scale(0.800,1)"><text x="0" y="0" class="t" font-size="15" font-weight="normal" style="stroke:#000;stroke-width:0.6">X</text><text x="10" y="0" class="t" font-size="15" font-weight="normal" style="stroke:#000;stroke-width:0.6">8</text></g><path d="M442.5,785.3 Q439,783.3 442.5,781.4 L539.7,730.4 Q543.2,728.5 546.9,730 L550.3,731.5 Q554,733 557.5,734.9 L638.6,777.8 Q642.1,779.7 638.6,781.7 L541.3,837 Q537.8,839 534.3,837Z M450.6,784.7 Q448,783.3 450.7,782 L540.5,737 Q543.2,735.7 545.9,737.1 L630.4,780.1 Q633.1,781.5 630.4,782.9 L540.5,830.4 Q537.8,831.8 535.2,830.4Z" style="fill:#fff;fill-rule:evenodd;stroke:#000;stroke-width:1.3;stroke-linejoin:round"/><rect x="555.5" y="726" width="9" height="28" style="fill:#fff"/><path d="M591,750 L609,759.3 L609,764 L591,754.7 Z" style="fill:#fff"/><path d="M574,748.5 L597,760.3 L597,765 L574,753.2 Z" style="fill:#fff"/><line class="l" x1="560" y1="705.8" x2="560" y2="724" /><path class="l" d="M556.7,756 L556.7,726.8 Q560,723.8 563.3,726.8 L563.3,756" /><path class="l" d="M556.7,728.3 Q560,729.9 563.3,728.3" /><path class="l" d="M556.7,730.9 Q560,732.5 563.3,730.9" /><path class="l" d="M556.7,733.5 Q560,735.1 563.3,733.5" /><path class="l" d="M556.7,736.1 Q560,737.7 563.3,736.1" /><path class="l" d="M556.7,738.7 Q560,740.3 563.3,738.7" /><path class="l" d="M556.7,741.3 Q560,742.9 563.3,741.3" /><path class="l" d="M556.7,743.9 Q560,745.5 563.3,743.9" /><path class="l" d="M556.7,746.5 Q560,748.1 563.3,746.5" /><line class="l" x1="556.7" y1="748" x2="563.3" y2="748" /><path class="l" d="M556.7,753.3 A8.5,3.3 0 0 1 551.5,756" /><path class="l" d="M563.3,753.3 A8.5,3.3 0 0 0 568.5,756" /><path class="l" d="M551.5,756 A8.5,3.3 0 0 0 568.5,756" /><path class="l" d="M556.7,756 Q560,757.6 563.3,756" /><path class="l" d="M551.5,756 L553,762.5 Q560,767 567,762.5 L568.5,756" /><path class="l" d="M553,760.1 L556.2,761.1 L563.8,761.1 L567,760.1" /><path class="l" d="M551.8,757.4 A8.2,3.3 0 0 0 568.2,757.4" /><line class="l" x1="556.2" y1="761.1" x2="556.2" y2="764.3" /><line class="l" x1="563.8" y1="761.1" x2="563.8" y2="764.3" /><line class="l" x1="566.4" y1="757.5" x2="610.8" y2="757.5" /><g transform="translate(615,763) scale(0.800,1)"><path d="M5.4,0 L5.4,-10.7 M5.6,-10.5 L2,-8.2" style="fill:none;stroke:#000;stroke-width:2.10;stroke-linecap:butt"/><text x="8.3" y="0" class="t" font-size="15" font-weight="normal" style="stroke:#000;stroke-width:0.6">5</text></g><line class="l" x1="640.6" y1="860.3" x2="640.6" y2="868" /><path class="l" d="M637.3,909 L637.3,870.1 Q640.6,867.1 643.9,870.1 L643.9,909" /><path class="l" d="M637.3,871.6 Q640.6,873.2 643.9,871.6" /><path class="l" d="M637.3,874.1 Q640.6,875.7 643.9,874.1" /><path class="l" d="M637.3,876.6 Q640.6,878.2 643.9,876.6" /><path class="l" d="M637.3,879.1 Q640.6,880.7 643.9,879.1" /><path class="l" d="M637.3,881.6 Q640.6,883.2 643.9,881.6" /><path class="l" d="M637.3,884.1 Q640.6,885.7 643.9,884.1" /><path class="l" d="M637.3,886.6 Q640.6,888.2 643.9,886.6" /><line class="l" x1="637.3" y1="888" x2="643.9" y2="888" /><path class="l" d="M637.3,906 A8.8,3.6 0 0 1 631.8,909" /><path class="l" d="M643.9,906 A8.8,3.6 0 0 0 649.4,909" /><path class="l" d="M631.8,909 A8.8,3.6 0 0 0 649.4,909" /><path class="l" d="M637.3,909 Q640.6,910.6 643.9,909" /><path class="l" d="M631.8,909 L633.3,916 Q640.6,920.5 647.9,916 L649.4,909" /><path class="l" d="M633.3,913.4 L636.8,914.4 L644.4,914.4 L647.9,913.4" /><path class="l" d="M632.1,910.4 A8.5,3.6 0 0 0 649.1,910.4" /><line class="l" x1="636.8" y1="914.4" x2="636.8" y2="917.8" /><line class="l" x1="644.4" y1="914.4" x2="644.4" y2="917.8" /><line class="l" x1="650" y1="909.3" x2="690.3" y2="909.3" /><g transform="translate(697.2,915.2) scale(0.800,1)"><path d="M5.4,0 L5.4,-10.7 M5.6,-10.5 L2,-8.2" style="fill:none;stroke:#000;stroke-width:2.10;stroke-linecap:butt"/><path d="M13.7,0 L13.7,-10.7 M14,-10.5 L10.3,-8.2" style="fill:none;stroke:#000;stroke-width:2.10;stroke-linecap:butt"/></g><line class="l" x1="589.4" y1="888" x2="589.4" y2="911" /><path class="l" d="M586.1,933.8 L586.1,915.9 Q589.4,912.9 592.7,915.9 L592.7,933.8" /><path class="l" d="M586.1,917.4 Q589.4,919 592.7,917.4" /><path class="l" d="M586.1,919.9 Q589.4,921.5 592.7,919.9" /><path class="l" d="M586.1,922.4 Q589.4,924 592.7,922.4" /><path class="l" d="M586.1,924.9 Q589.4,926.5 592.7,924.9" /><line class="l" x1="586.1" y1="927" x2="592.7" y2="927" /><path class="l" d="M586.1,931.1 A8.6,3.3 0 0 1 580.8,933.8" /><path class="l" d="M592.7,931.1 A8.6,3.3 0 0 0 598,933.8" /><path class="l" d="M580.8,933.8 A8.6,3.3 0 0 0 598,933.8" /><path class="l" d="M586.1,933.8 Q589.4,935.4 592.7,933.8" /><path class="l" d="M580.8,933.8 L582.3,940.3 Q589.4,944.8 596.5,940.3 L598,933.8" /><path class="l" d="M582.3,937.9 L585.6,938.9 L593.2,938.9 L596.5,937.9" /><path class="l" d="M581.1,935.2 A8.3,3.3 0 0 0 597.7,935.2" /><line class="l" x1="585.6" y1="938.9" x2="585.6" y2="942.1" /><line class="l" x1="593.2" y1="938.9" x2="593.2" y2="942.1" /><line class="l" x1="597.2" y1="933.3" x2="636" y2="933.3" /><g transform="translate(641.5,938.2) scale(0.800,1)"><path d="M5.4,0 L5.4,-10.7 M5.6,-10.5 L2,-8.2" style="fill:none;stroke:#000;stroke-width:2.10;stroke-linecap:butt"/><text x="8.3" y="0" class="t" font-size="15" font-weight="normal" style="stroke:#000;stroke-width:0.6">3</text></g><line class="l" x1="537.7" y1="917" x2="537.7" y2="925" /><ellipse class="l" cx="537.7" cy="931.8" rx="9.2" ry="4.6" /><ellipse class="l" cx="537.7" cy="931.2" rx="4.5" ry="2.2" /><path class="l" d="M528.5,932 L528.5,933.5 Q537.7,940 546.9,933.5 L546.9,932" /><line class="l" x1="472.2" y1="931" x2="527.8" y2="931" /><g transform="translate(458.3,937) scale(0.800,1)"><text x="0" y="0" class="t" font-size="15" font-weight="normal" style="stroke:#000;stroke-width:0.6">9</text></g><path class="l" d="M532,941 L532,948 M543.4,941 L543.4,948" /><ellipse class="l" cx="537.7" cy="941" rx="5.7" ry="2.2" /><path class="l" d="M532,943.5 Q537.7,945.3 543.4,943.5" /><path class="l" d="M532,946 Q537.7,947.8 543.4,946" /><path class="l" d="M532,951.5 L532,947.5 Q537.7,944.5 543.4,947.5 L543.4,951.5" /><line class="l" x1="532" y1="946" x2="543.4" y2="946" /><path class="l" d="M532,948.7 A9,3.4 0 0 1 528.7,951.5" /><path class="l" d="M543.4,948.7 A9,3.4 0 0 0 546.7,951.5" /><path class="l" d="M528.7,951.5 A9,3.4 0 0 0 546.7,951.5" /><path class="l" d="M532,951.5 Q537.7,953.1 543.4,951.5" /><path class="l" d="M528.7,951.5 L530.2,957 Q537.7,961.5 545.2,957 L546.7,951.5" /><path class="l" d="M530.2,955.7 L533.9,956.7 L541.5,956.7 L545.2,955.7" /><path class="l" d="M529,952.9 A8.7,3.4 0 0 0 546.4,952.9" /><line class="l" x1="533.9" y1="956.7" x2="533.9" y2="958.8" /><line class="l" x1="541.5" y1="956.7" x2="541.5" y2="958.8" /><line class="l" x1="472.2" y1="952" x2="527.8" y2="952" /><g transform="translate(458.3,958.5) scale(0.800,1)"><text x="0" y="0" class="t" font-size="15" font-weight="normal" style="stroke:#000;stroke-width:0.6">7</text></g><path class="l" d="M450,913 L438.9,913 L438.9,952 L450,952" /><line class="l" x1="438.9" y1="932.5" x2="450" y2="932.5" /><line class="l" x1="429.2" y1="932.5" x2="438.9" y2="932.5" /><g transform="translate(413.9,938.3) scale(0.800,1)"><text x="0" y="0" class="t" font-size="15" font-weight="normal" style="stroke:#000;stroke-width:0.6">6</text></g>
</g>
</svg>
</body></html>
